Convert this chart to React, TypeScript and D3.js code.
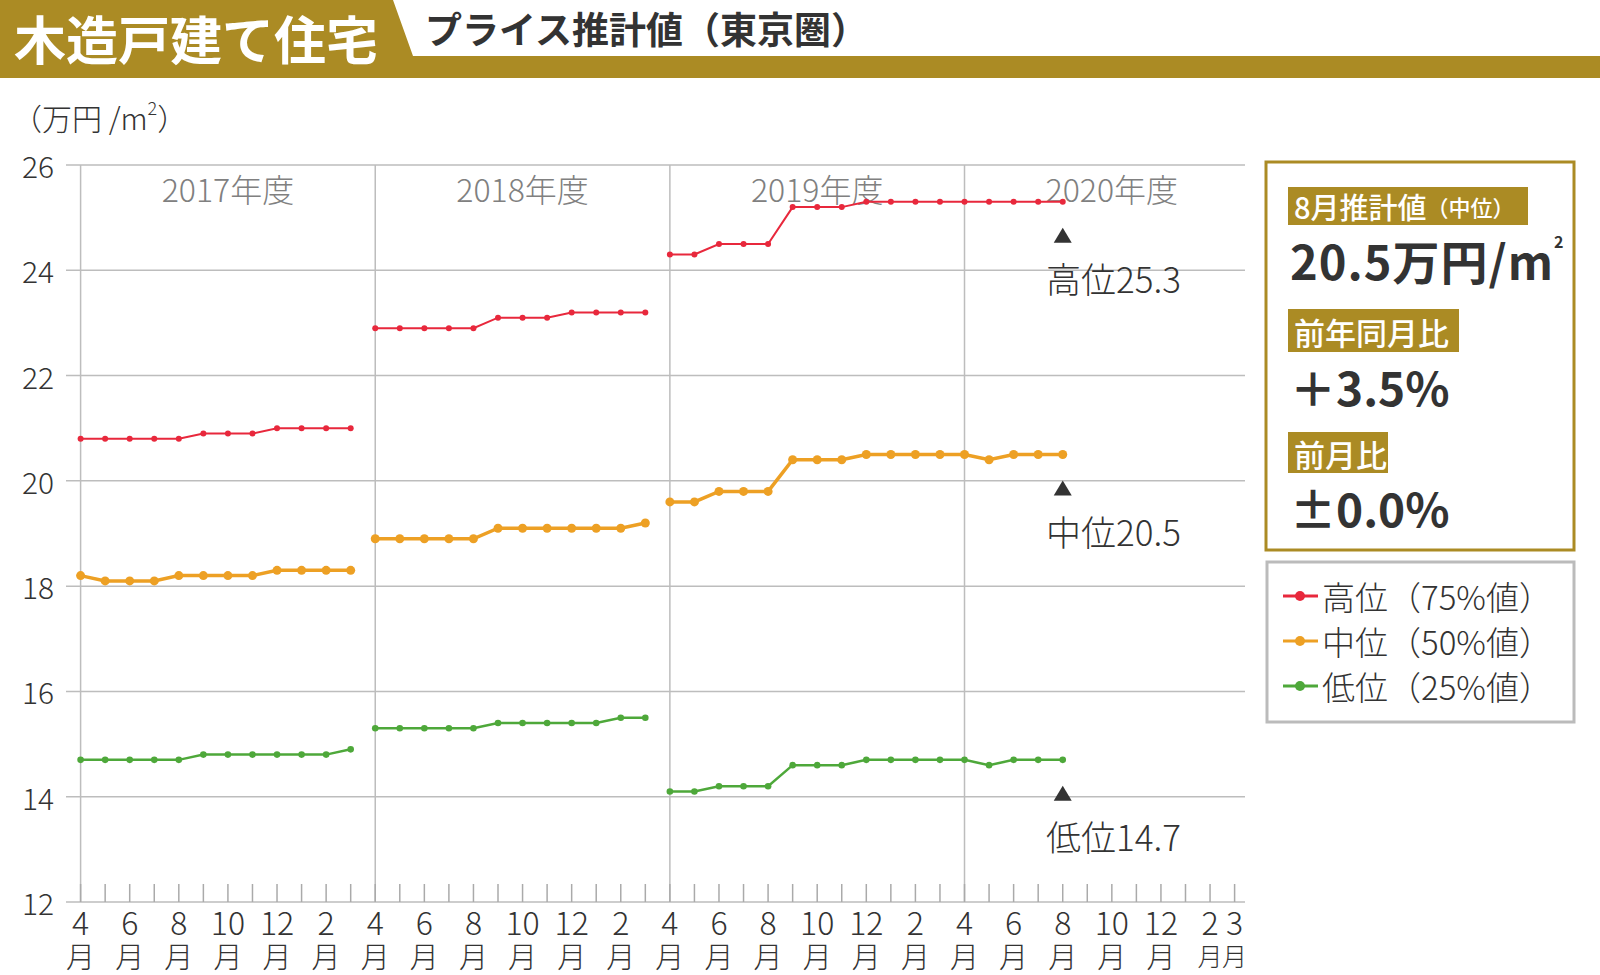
import React from "react";
import * as d3 from "d3";

const fiscalYears = ["2017年度", "2018年度", "2019年度", "2020年度"];
const monthNames = ["4", "5", "6", "7", "8", "9", "10", "11", "12", "1", "2", "3"];
const yTicks = [12, 14, 16, 18, 20, 22, 24, 26];

// segment start month index (0 = 2017年4月)
const segStarts = [0, 12, 24];

const high2017 = [20.8, 20.8, 20.8, 20.8, 20.8, 20.9, 20.9, 20.9, 21.0, 21.0, 21.0, 21.0];
const high2018 = [22.9, 22.9, 22.9, 22.9, 22.9, 23.1, 23.1, 23.1, 23.2, 23.2, 23.2, 23.2];
const high2019 = [24.3, 24.3, 24.5, 24.5, 24.5, 25.2, 25.2, 25.2, 25.3, 25.3, 25.3, 25.3, 25.3, 25.3, 25.3, 25.3, 25.3];

const mid2017 = [18.2, 18.1, 18.1, 18.1, 18.2, 18.2, 18.2, 18.2, 18.3, 18.3, 18.3, 18.3];
const mid2018 = [18.9, 18.9, 18.9, 18.9, 18.9, 19.1, 19.1, 19.1, 19.1, 19.1, 19.1, 19.2];
const mid2019 = [19.6, 19.6, 19.8, 19.8, 19.8, 20.4, 20.4, 20.4, 20.5, 20.5, 20.5, 20.5, 20.5, 20.4, 20.5, 20.5, 20.5];

const low2017 = [14.7, 14.7, 14.7, 14.7, 14.7, 14.8, 14.8, 14.8, 14.8, 14.8, 14.8, 14.9];
const low2018 = [15.3, 15.3, 15.3, 15.3, 15.3, 15.4, 15.4, 15.4, 15.4, 15.4, 15.5, 15.5];
const low2019 = [14.1, 14.1, 14.2, 14.2, 14.2, 14.6, 14.6, 14.6, 14.7, 14.7, 14.7, 14.7, 14.7, 14.6, 14.7, 14.7, 14.7];

const seriesNames = ["高位（75%値）", "中位（50%値）", "低位（25%値）"];
const latestLabels = ["高位25.3", "中位20.5", "低位14.7"];
const latestValues = [25.3, 20.5, 14.7];
const latestIndex = 40;

const GOLD = "#ab8b24";
const FONT = "'Noto Sans CJK JP', 'Noto Sans', sans-serif";

const series = [
  { name: seriesNames[0], color: "#e8283c", width: 2, r: 3, segs: [high2017, high2018, high2019] },
  { name: seriesNames[1], color: "#eda024", width: 3.5, r: 4.5, segs: [mid2017, mid2018, mid2019] },
  { name: seriesNames[2], color: "#4ea83a", width: 2.5, r: 3.3, segs: [low2017, low2018, low2019] },
];

export default function App() {
  const x = d3.scaleLinear().domain([0, 47]).range([80.6, 1234.6]);
  const y = d3.scaleLinear().domain([12, 26]).range([902, 165]);
  const line = d3
    .line<{ i: number; v: number }>()
    .x((d) => x(d.i))
    .y((d) => y(d.v));

  const monthIdx = d3.range(48);
  const labelIdx = monthIdx.filter((i) => i % 2 === 0 || i === 47);

  return (
    <div style={{ position: "absolute", left: 0, top: 0 }}>
      <svg width={1600} height={975} style={{ display: "block", fontFamily: FONT }}>
        <rect width={1600} height={975} fill="#fff" />
        {/* header */}
        <path d="M0,0 L393,0 L413,56 L1600,56 L1600,78 L0,78 Z" fill={GOLD} />
        <text x={14} y={37} fill="#fff" fontSize={52} fontWeight={700} dominantBaseline="central">
          木造戸建て住宅
        </text>
        <text x={425} y={28} fill="#333" fontSize={37} fontWeight={700} dominantBaseline="central">
          プライス推計値（東京圏）
        </text>
        {/* unit */}
        <text x={12} y={117} fill="#333" fontSize={30} fontWeight={300} dominantBaseline="central">
          （万円 /m<tspan fontSize={18} dy={-10}>2</tspan><tspan dy={10}>）</tspan>
        </text>

        {/* grid */}
        {yTicks.map((t) => (
          <g key={t}>
            <line x1={66} x2={1245} y1={y(t)} y2={y(t)} stroke="#bdbdbd" strokeWidth={1.5} />
            <text x={54} y={y(t)} textAnchor="end" dominantBaseline="central" fontSize={30} fontWeight={300} fill="#333">
              {t}
            </text>
          </g>
        ))}
        {fiscalYears.map((fy, k) => (
          <g key={fy}>
            <line x1={x(k * 12)} x2={x(k * 12)} y1={y(26)} y2={y(12)} stroke="#bdbdbd" strokeWidth={1.5} />
            <text x={(x(k * 12) + x(k * 12 + 12)) / 2} y={188} textAnchor="middle" dominantBaseline="central" fontSize={32} fontWeight={300} fill="#808080">
              {fy}
            </text>
          </g>
        ))}
        {monthIdx.map((i) => (
          <line key={i} x1={x(i)} x2={x(i)} y1={y(12) - 18} y2={y(12)} stroke="#aaa" strokeWidth={1.5} />
        ))}
        {labelIdx.map((i) => {
          const tight = i >= 46;
          return (
            <text key={"l" + i} textAnchor="middle" dominantBaseline="central" fontWeight={300} fill="#333">
              <tspan x={x(i)} y={921} fontSize={32}>
                {monthNames[i % 12]}
              </tspan>
              <tspan x={x(i)} y={955} fontSize={tight ? 25 : 29}>
                月
              </tspan>
            </text>
          );
        })}

        {/* series */}
        {series.map((s) => (
          <g key={s.name}>
            {s.segs.map((seg, k) => {
              const pts = seg.map((v, j) => ({ i: segStarts[k] + j, v }));
              return (
                <g key={k}>
                  <path d={line(pts) || ""} fill="none" stroke={s.color} strokeWidth={s.width} />
                  {pts.map((p) => (
                    <circle key={p.i} cx={x(p.i)} cy={y(p.v)} r={s.r} fill={s.color} />
                  ))}
                </g>
              );
            })}
          </g>
        ))}

        {/* latest annotations */}
        {latestValues.map((v, k) => {
          const cx = x(latestIndex);
          const ty = y(v) + 34;
          return (
            <g key={k}>
              <path d={`M${cx},${ty - 8} L${cx + 9},${ty + 7} L${cx - 9},${ty + 7} Z`} fill="#333" />
              <text x={1046} y={ty + 42} dominantBaseline="central" fontSize={35} fontWeight={300} fill="#333">
                {latestLabels[k]}
              </text>
            </g>
          );
        })}

        {/* info panel */}
        <rect x={1266} y={162} width={308} height={388} fill="none" stroke={GOLD} strokeWidth={3} />
        <rect x={1288} y={187} width={240} height={38} fill={GOLD} />
        <text x={1294} y={206} dominantBaseline="central" fill="#fff" fontSize={29} fontWeight={500}>
          8月推計値<tspan fontSize={22}>（中位）</tspan>
        </text>
        <text x={1290} y={259} dominantBaseline="central" fill="#333" fontSize={47} fontWeight={700} letterSpacing={1}>
          20.5万円/m<tspan fontSize={16} dy={-18}>2</tspan>
        </text>
        <rect x={1288} y={309} width={171} height={43} fill={GOLD} />
        <text x={1294} y={331} dominantBaseline="central" fill="#fff" fontSize={31} fontWeight={500}>
          前年同月比
        </text>
        <text x={1290} y={386} dominantBaseline="central" fill="#333" fontSize={46} fontWeight={700}>
          ＋3.5%
        </text>
        <rect x={1288} y={432} width={100} height={41} fill={GOLD} />
        <text x={1294} y={453} dominantBaseline="central" fill="#fff" fontSize={31} fontWeight={500}>
          前月比
        </text>
        <text x={1290} y={507} dominantBaseline="central" fill="#333" fontSize={46} fontWeight={700}>
          ±0.0%
        </text>

        {/* legend */}
        <rect x={1267} y={562} width={307} height={160} fill="none" stroke="#bbb" strokeWidth={3} />
        {series.map((s, k) => {
          const ly = 596 + k * 45;
          return (
            <g key={"lg" + k}>
              <line x1={1283} x2={1318} y1={ly} y2={ly} stroke={s.color} strokeWidth={3} />
              <circle cx={1300} cy={ly} r={5} fill={s.color} />
              <text x={1322} y={ly} dominantBaseline="central" fontSize={33} fontWeight={300} fill="#333">
                {s.name}
              </text>
            </g>
          );
        })}
      </svg>
    </div>
  );
}
